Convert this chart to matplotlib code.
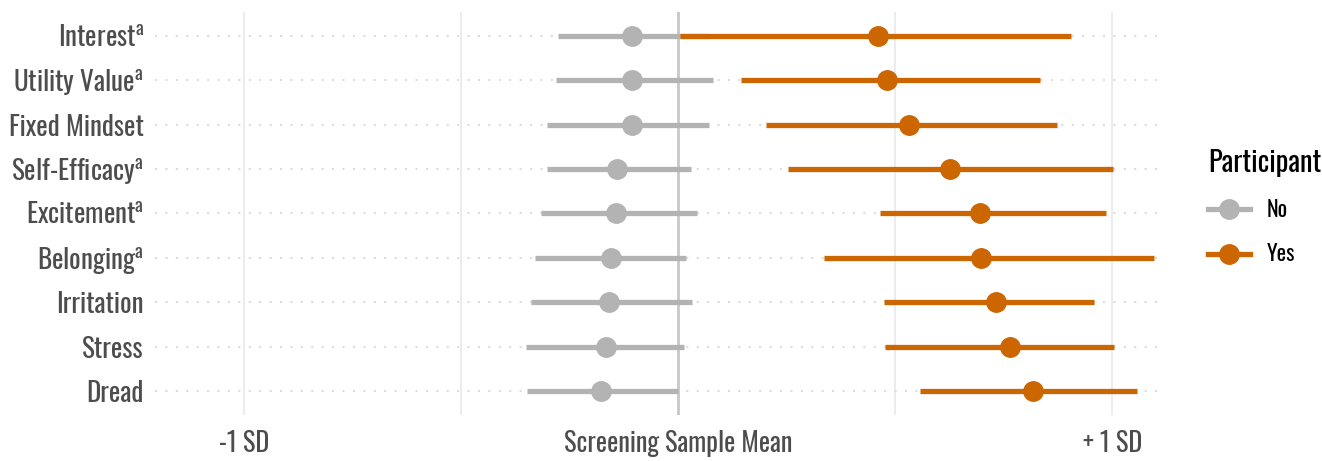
import matplotlib
matplotlib.use("Agg")
import matplotlib.pyplot as plt
from matplotlib.lines import Line2D
import matplotlib.font_manager as fm

avail = {f.name for f in fm.fontManager.ttflist}
FONT = next((f for f in ["Oswald", "Roboto Condensed", "DejaVu Sans"] if f in avail), "DejaVu Sans")
plt.rcParams['font.family'] = [FONT, 'DejaVu Sans']
plt.rcParams['mathtext.fontset'] = 'custom'
plt.rcParams['mathtext.rm'] = FONT
plt.rcParams['mathtext.it'] = FONT

categories = ["Interest", "Utility Value", "Fixed Mindset", "Self-Efficacy", "Excitement",
              "Belonging", "Irritation", "Stress", "Dread"]
superscript = [True, True, False, True, True, True, False, False, False]

no_mean = [-0.106, -0.106, -0.106, -0.141, -0.143, -0.154, -0.159, -0.166, -0.177]
no_lo   = [-0.276, -0.281, -0.302, -0.302, -0.316, -0.330, -0.339, -0.350, -0.348]
no_hi   = [0.069, 0.081, 0.071, 0.030, 0.044, 0.018, 0.032, 0.014, 0.000]

yes_mean = [0.461, 0.482, 0.532, 0.627, 0.696, 0.698, 0.733, 0.765, 0.818]
yes_lo   = [0.005, 0.145, 0.203, 0.253, 0.465, 0.336, 0.475, 0.477, 0.558]
yes_hi   = [0.906, 0.834, 0.873, 1.002, 0.986, 1.097, 0.959, 1.005, 1.058]

xticks = [-1, 0, 1]
xticklabels = ["-1 SD", "Screening Sample Mean", "+ 1 SD"]

GREY = "#b3b3b3"
ORANGE = "#cc6600"

fig = plt.figure(figsize=(13.22, 4.61), dpi=100)
ax = fig.add_axes([155/1322, 1 - 415/461, (1160-155)/1322, (415-12)/461])

n = len(categories)
ys = [n - i for i in range(n)]

# gridlines
for gx in [-1, -0.5, 0.5, 1]:
    ax.axvline(gx, color="#ebebeb", lw=1.3, zorder=0)
ax.axvline(0, color="#c8c8c8", lw=2.0, zorder=1)
for y in ys:
    ax.axhline(y, color="#dcdcdc", lw=1.5, ls=(0, (1, 4)), zorder=0)

for i, y in enumerate(ys):
    ax.plot([no_lo[i], no_hi[i]], [y, y], color=GREY, lw=3.8, solid_capstyle='butt', zorder=2)
    ax.plot([no_mean[i]], [y], 'o', color=GREY, ms=14, zorder=3)
for i, y in enumerate(ys):
    ax.plot([yes_lo[i], yes_hi[i]], [y, y], color=ORANGE, lw=3.8, solid_capstyle='butt', zorder=4)
    ax.plot([yes_mean[i]], [y], 'o', color=ORANGE, ms=14, zorder=5)

ax.set_xlim(-1.205, 1.11)
ax.set_ylim(0.47, n + 0.53)
ax.set_yticks(ys)
labels = [c + (r"$^{\mathrm{a}}$" if s else "") for c, s in zip(categories, superscript)]
ax.set_yticklabels(labels)
ax.set_xticks(xticks)
ax.set_xticklabels(xticklabels)
ax.tick_params(axis='y', length=0, labelsize=19.5, labelcolor="#4d4d4d", pad=8)
ax.tick_params(axis='x', length=0, labelsize=19, labelcolor="#4d4d4d", pad=11)
for s in ax.spines.values():
    s.set_visible(False)

handles = [Line2D([0], [0], color=GREY, lw=3.8, marker='o', ms=14),
           Line2D([0], [0], color=ORANGE, lw=3.8, marker='o', ms=14)]
leg = fig.legend(handles, ["No", "Yes"], title="Participant", loc="upper left",
                 bbox_to_anchor=(1188/1322, 1 - 129/461), frameon=False,
                 fontsize=16, title_fontsize=20.5, handlelength=1.9, labelspacing=1.0,
                 handletextpad=0.75, alignment='left')
leg.get_title().set_color("black")

fig.savefig("out.png", dpi=100)
